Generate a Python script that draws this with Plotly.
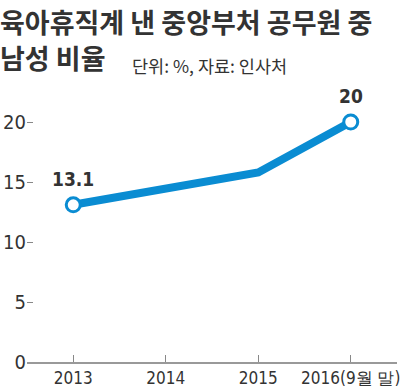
import plotly.graph_objects as go

years = [2013, 2014, 2015, 2016]
tick_labels = ["2013", "2014", "2015", "2016(9월 말)"]
values = [13.1, 14.4, 15.8, 20.0]
marked_years = [2013, 2016]
marked_values = [13.1, 20.0]
marked_labels = ["13.1", "20"]
y_ticks = [0, 5, 10, 15, 20]

BLUE = "#0a8cd2"
TXT = "#333333"
NARROW = "DejaVu Sans Condensed, Liberation Sans, sans-serif"
KR = "Noto Sans CJK KR, Noto Sans, sans-serif"

fig = go.Figure()
fig.add_trace(go.Scatter(x=years, y=values, mode="lines",
                         line=dict(color=BLUE, width=8), hoverinfo="skip"))
fig.add_trace(go.Scatter(x=marked_years, y=marked_values, mode="markers",
                         marker=dict(size=14, color="white",
                                     line=dict(color=BLUE, width=3)),
                         hoverinfo="skip"))

fig.update_layout(
    width=400, height=391,
    margin=dict(l=27, r=0, t=98, b=29),
    paper_bgcolor="white", plot_bgcolor="white",
    showlegend=False,
    xaxis=dict(range=[2012.5, 2016.5], tickmode="array", tickvals=years,
               ticktext=tick_labels, ticks="inside", ticklen=7, tickwidth=1,
               tickcolor="#888888", showline=True, linecolor="#999999", linewidth=2,
               showgrid=False, zeroline=False, ticklabeloverflow="allow",
               tickfont=dict(family=NARROW, size=17, color=TXT)),
    yaxis=dict(range=[0, 22], tickmode="array", tickvals=y_ticks,
               ticks="inside", ticklen=6, tickwidth=1, tickcolor="#888888",
               showline=False, showgrid=False, zeroline=False,
               tickfont=dict(family=NARROW, size=20, color=TXT)),
)

for xv, yv, lab in zip(marked_years, marked_values, marked_labels):
    fig.add_annotation(x=xv, y=yv, text=lab, showarrow=False, yshift=26,
                       font=dict(family=NARROW, size=19, color=TXT, weight="bold"))

H = 264.0
def py(ypix):
    return (391 - 29 - ypix) / H

fig.add_annotation(xref="paper", yref="paper", x=-27/373, y=py(0),
                   xanchor="left", yanchor="top", xshift=-2,
                   text="육아휴직계 낸 중앙부처 공무원 중", showarrow=False,
                   font=dict(family=KR, size=27, color=TXT, weight="bold"))
fig.add_annotation(xref="paper", yref="paper", x=-27/373, y=py(58),
                   xanchor="left", yanchor="middle", xshift=-2,
                   text="남성 비율", showarrow=False,
                   font=dict(family=KR, size=27, color=TXT, weight="bold"))
fig.add_annotation(xref="paper", yref="paper", x=(133-27)/373, y=py(65),
                   xanchor="left", yanchor="middle", xshift=-2,
                   text="단위: %, 자료: 인사처", showarrow=False,
                   font=dict(family=KR, size=17.5, color=TXT))

fig.write_html("out.html", config={"displayModeBar": False},
               post_script="document.body.style.margin='0';document.body.style.padding='0';")
